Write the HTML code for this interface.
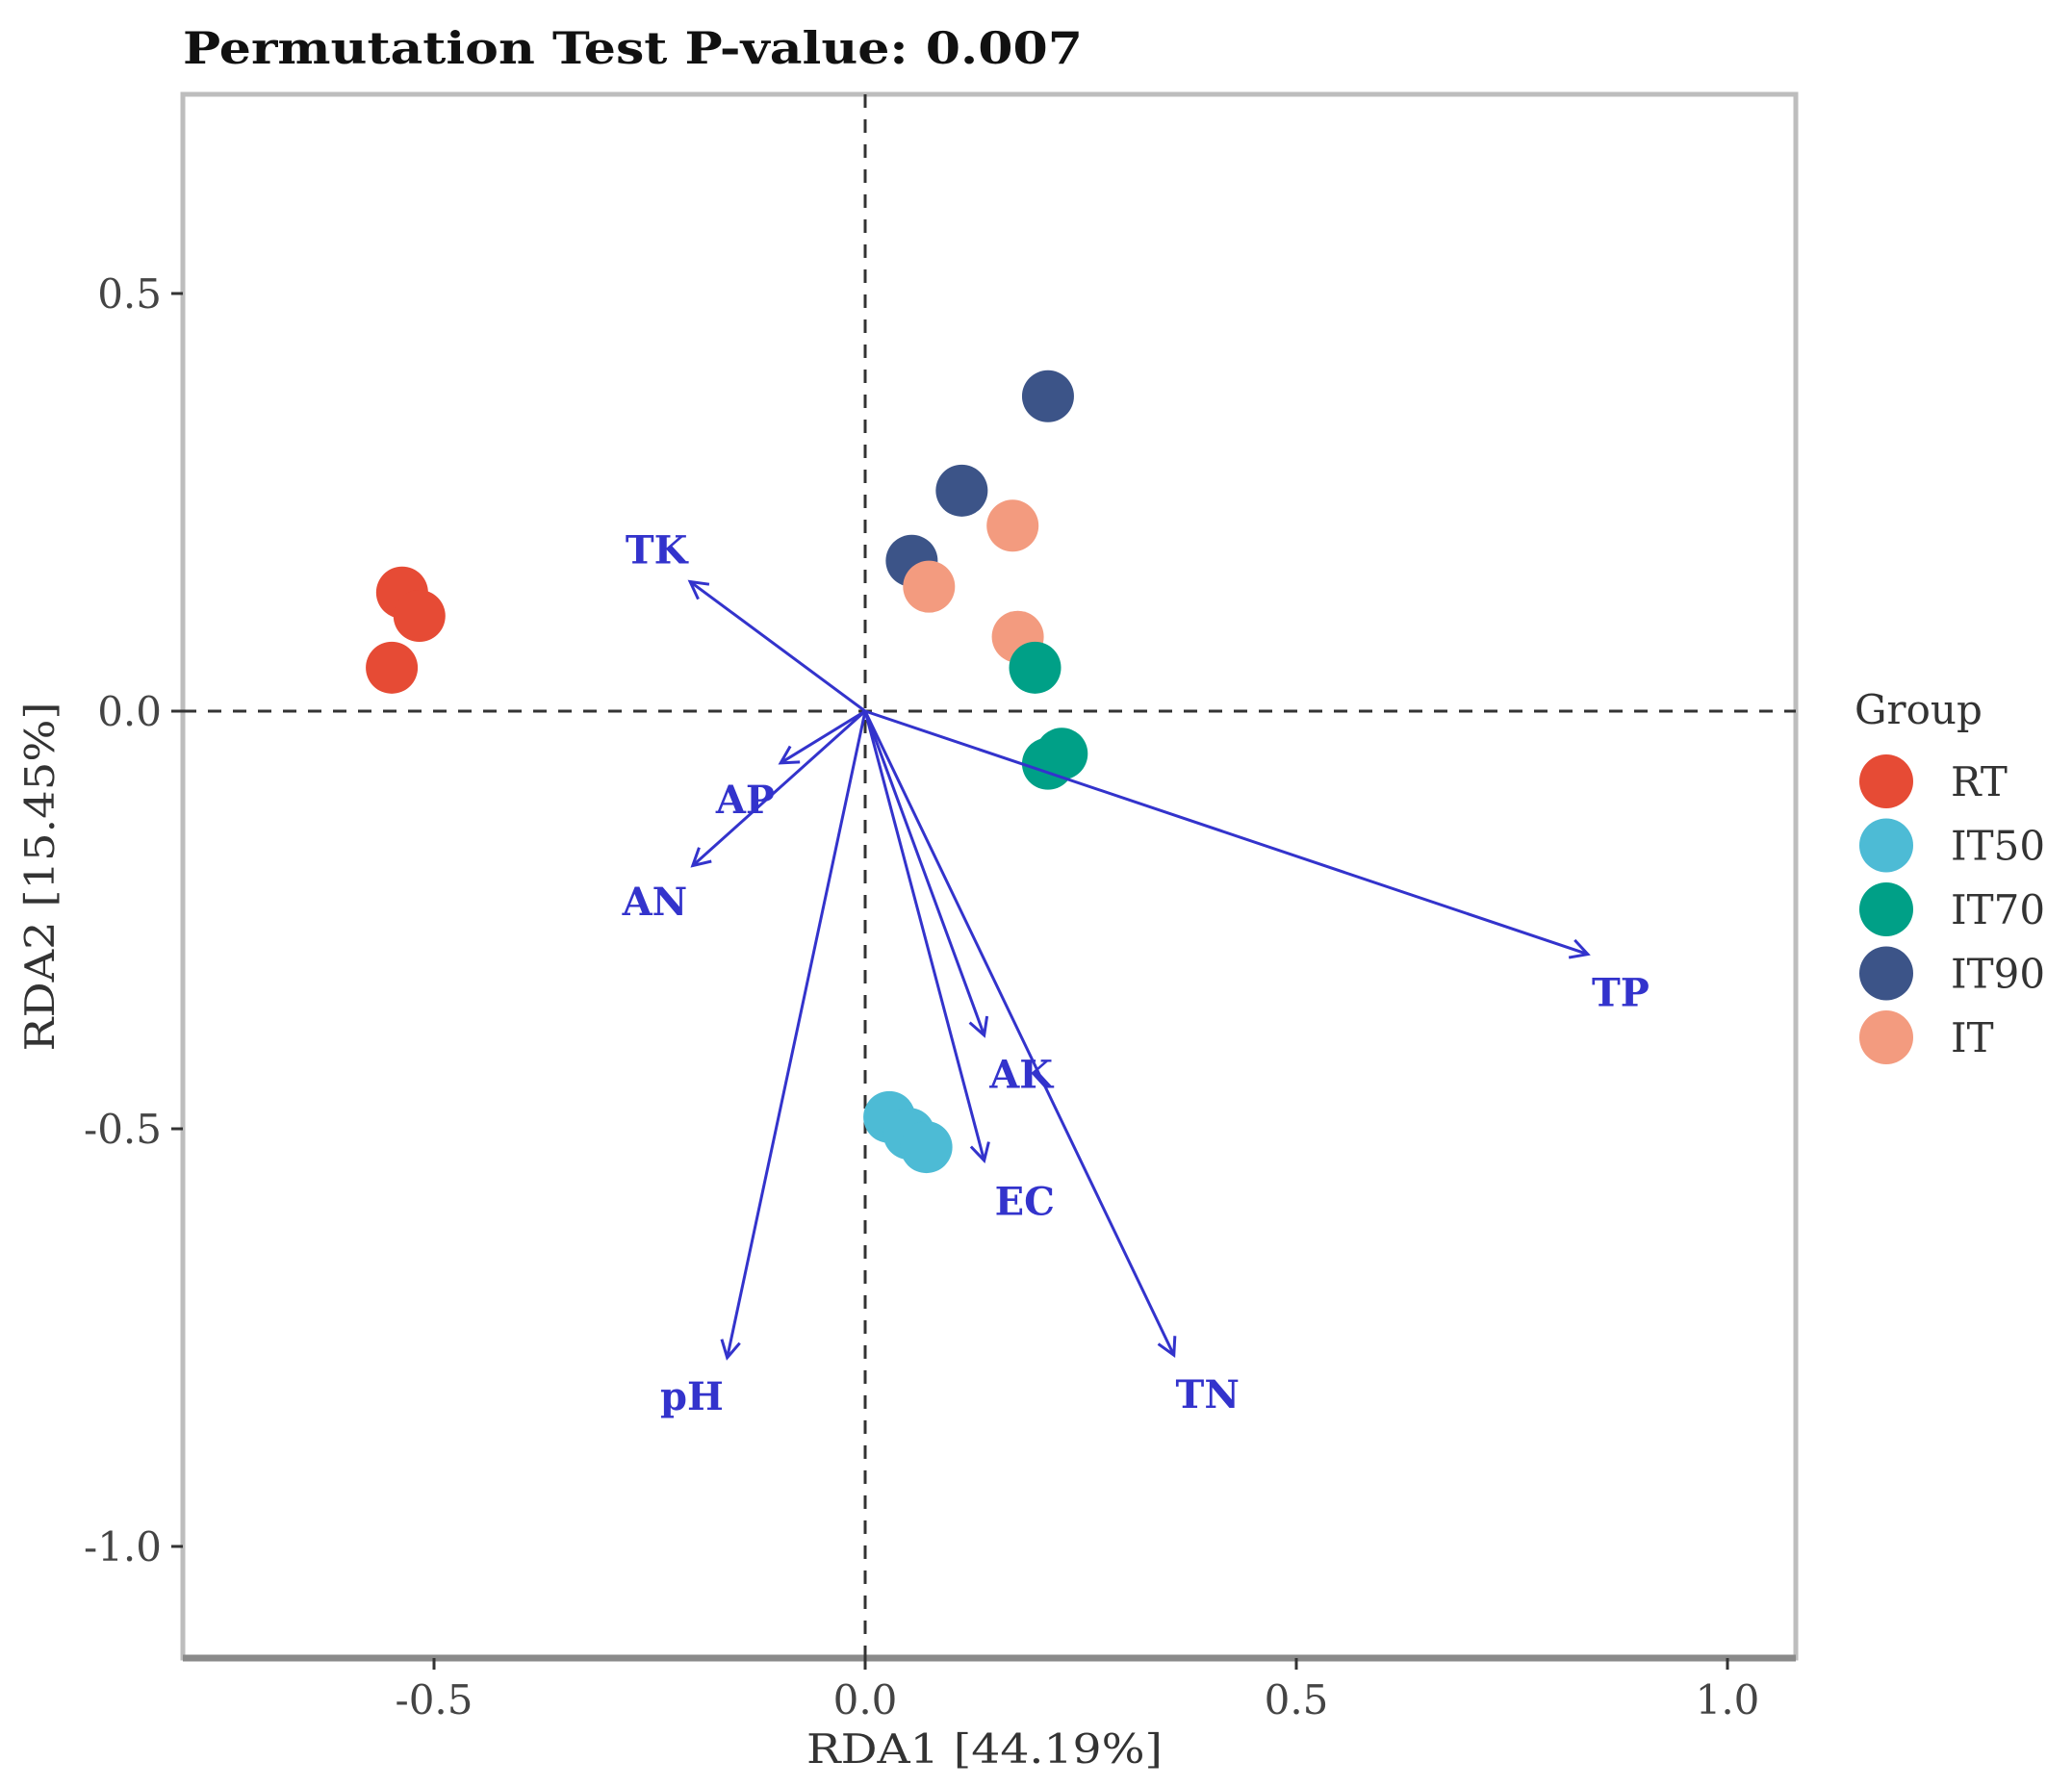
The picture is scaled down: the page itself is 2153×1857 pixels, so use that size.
<!DOCTYPE html>
<html><head><meta charset="utf-8"><style>
html,body{margin:0;padding:0;background:#fff;}
svg{display:block;}
text{font-family:"DejaVu Serif","Liberation Serif",serif;}
</style></head><body>
<svg id="chart" width="2153" height="1857" viewBox="0 0 2153 1857" xmlns="http://www.w3.org/2000/svg">
<rect width="2153" height="1857" fill="#fff"/>
<text x="190" y="66" font-size="46" font-weight="bold" fill="#111" textLength="935" lengthAdjust="spacingAndGlyphs">Permutation Test P-value: 0.007</text>
<g id="panel"></g>
<text x="1023" y="1832" font-size="42" fill="#333" text-anchor="middle" textLength="370" lengthAdjust="spacingAndGlyphs">RDA1 [44.19%]</text>
<text transform="translate(56,911) rotate(-90)" font-size="42" fill="#333" text-anchor="middle" textLength="363" lengthAdjust="spacingAndGlyphs">RDA2 [15.45%]</text>
<g id="legend"></g>
</svg>
<script>
const groups = ["RT","IT50","IT70","IT90","IT"];
const colors = ["#E64B35","#4DBBD5","#00A087","#3C5488","#F39B7F"];
const sampleGroup = ["RT","RT","RT","IT90","IT90","IT90","IT","IT","IT","IT70","IT70","IT70","IT50","IT50","IT50"];
const sampleX = [-0.537,-0.517,-0.549,0.212,0.112,0.054,0.171,0.074,0.177,0.197,0.228,0.212,0.028,0.051,0.071];
const sampleY = [0.142,0.114,0.052,0.377,0.264,0.180,0.222,0.149,0.089,0.052,-0.051,-0.063,-0.486,-0.506,-0.522];
const envNames = ["TK","AP","AN","pH","AK","EC","TN","TP"];
const envX = [-0.203,-0.098,-0.200,-0.160,0.138,0.138,0.358,0.838];
const envY = [0.155,-0.062,-0.185,-0.774,-0.388,-0.538,-0.771,-0.291];
const labelX = [-0.242,-0.139,-0.244,-0.201,0.181,0.185,0.397,0.876];
const labelY = [0.193,-0.106,-0.228,-0.820,-0.435,-0.587,-0.818,-0.337];
const xTicks = [-0.5,0.0,0.5,1.0];
const xTickLabels = ["-0.5","0.0","0.5","1.0"];
const yTicks = [0.5,0.0,-0.5,-1.0];
const yTickLabels = ["0.5","0.0","-0.5","-1.0"];

const NS="http://www.w3.org/2000/svg";
const L=190,R=1866,T=98,B=1723;
function sx(v){return 899+v*896;}
function sy(v){return 739-v*868;}
function mk(tag,attrs,parent){const e=document.createElementNS(NS,tag);for(const k in attrs)e.setAttribute(k,attrs[k]);parent.appendChild(e);return e;}
const svg=document.getElementById('chart');
const panel=document.getElementById('panel');
const leg=document.getElementById('legend');

let bg=mk('rect',{x:L,y:T,width:R-L,height:B-T,fill:'#fff',stroke:'#bdbdbd','stroke-width':5},panel);


let bl=mk('line',{x1:L,y1:B,x2:R,y2:B,stroke:'#8a8a8a','stroke-width':7},panel);



let vz=mk('line',{x1:sx(0),y1:T,x2:sx(0),y2:B,stroke:'#333','stroke-width':3,'stroke-dasharray':'14 12'},panel);


let hz=mk('line',{x1:L,y1:sy(0),x2:R,y2:sy(0),stroke:'#333','stroke-width':3,'stroke-dasharray':'14 12'},panel);



xTicks.forEach((t,i)=>{
  let tk=mk('line',{x1:sx(t),y1:B,x2:sx(t),y2:B+12,stroke:'#333','stroke-width':3},svg);
  
  
  let tl=mk('text',{x:sx(t),y:B+58,'font-size':42,fill:'#444','text-anchor':'middle'},svg);
  
  
  tl.textContent=xTickLabels[i];
});
yTicks.forEach((t,i)=>{
  let tk=mk('line',{x1:L-12,y1:sy(t),x2:L,y2:sy(t),stroke:'#333','stroke-width':3},svg);
  
  
  let tl=mk('text',{x:L-22,y:sy(t)+15,'font-size':42,fill:'#444','text-anchor':'end'},svg);
  
  
  tl.textContent=yTickLabels[i];
});

sampleX.forEach((v,i)=>{
  const c=colors[groups.indexOf(sampleGroup[i])];
  let p=mk('circle',{cx:sx(v),cy:sy(sampleY[i]),r:27,fill:c},panel);
  
  
});

const AC='#3333cc';
envNames.forEach((n,i)=>{
  const x0=sx(0),y0=sy(0),x1=sx(envX[i]),y1=sy(envY[i]);
  let ln=mk('line',{x1:x0,y1:y0,x2:x1,y2:y1,stroke:AC,'stroke-width':3},panel);
  
  
  const a=Math.atan2(y1-y0,x1-x0),h=20,w=0.5;
  let hd=mk('polyline',{points:`${x1-h*Math.cos(a-w)},${y1-h*Math.sin(a-w)} ${x1},${y1} ${x1-h*Math.cos(a+w)},${y1-h*Math.sin(a+w)}`,fill:'none',stroke:AC,'stroke-width':3},panel);
  
  
  let lb=mk('text',{x:sx(labelX[i]),y:sy(labelY[i])+14,'font-size':40,'font-weight':'bold',fill:AC,'text-anchor':'middle'},panel);
  
  
  lb.textContent=n;
});

let lt=mk('text',{x:1927,y:752,'font-size':42,fill:'#333'},leg);


lt.textContent='Group';
groups.forEach((g,i)=>{
  const y=812+i*66.5;
  let k=mk('circle',{cx:1960,cy:y,r:28,fill:colors[i]},leg);
  
  
  let t=mk('text',{x:2027,y:y+15,'font-size':42,fill:'#333'},leg);
  
  
  t.textContent=g;
});
</script>
</body></html>
